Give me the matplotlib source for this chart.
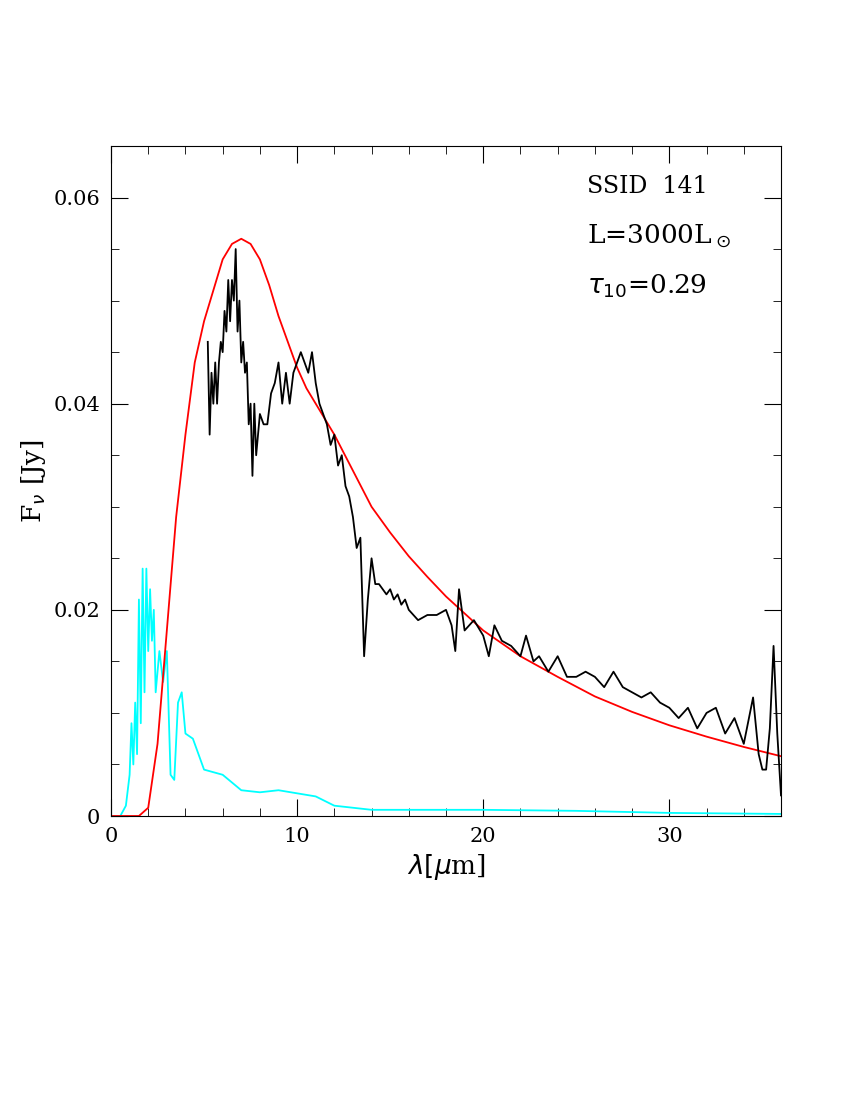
import matplotlib
matplotlib.use("Agg")
import matplotlib.pyplot as plt
from matplotlib.ticker import MultipleLocator

model_wl = [0, 1.5, 2, 2.5, 3, 3.5, 4, 4.5, 5, 5.5, 6, 6.5, 7, 7.5, 8, 8.5, 9, 9.5, 10, 10.5, 11,
            12, 13, 14, 15, 16, 17, 18, 20, 22, 24, 26, 28, 30, 32, 34, 36]
model_flux = [0, 0, 0.0008, 0.007, 0.018, 0.029, 0.037, 0.044, 0.048, 0.051, 0.054, 0.0555, 0.056,
              0.0555, 0.054, 0.0515, 0.0485, 0.046, 0.0435, 0.0415, 0.040, 0.037, 0.0335, 0.030,
              0.0275, 0.0252, 0.0232, 0.0213, 0.018, 0.0155, 0.0135, 0.0116, 0.0101, 0.0088,
              0.0077, 0.0067, 0.0058]

star_wl = [0, 0.5, 0.8, 1.0, 1.1, 1.2, 1.3, 1.4, 1.5, 1.6, 1.7, 1.8, 1.9, 2.0, 2.1, 2.2, 2.3, 2.4,
           2.6, 2.8, 3.0, 3.2, 3.4, 3.6, 3.8, 4.0, 4.4, 4.8, 5.0, 6, 7, 8, 9, 10, 11, 12, 14, 20,
           25, 30, 36]
star_flux = [0, 0, 0.001, 0.004, 0.009, 0.005, 0.011, 0.006, 0.021, 0.009, 0.024, 0.012, 0.024,
             0.016, 0.022, 0.017, 0.020, 0.012, 0.016, 0.013, 0.016, 0.004, 0.0035, 0.011, 0.012,
             0.008, 0.0075, 0.0055, 0.0045, 0.004, 0.0025, 0.0023, 0.0025, 0.0022, 0.0019,
             0.001, 0.0006, 0.0006, 0.0005, 0.0003, 0.0002]

obs_wl = ([5.2, 5.3, 5.4, 5.5, 5.6, 5.7, 5.8, 5.9, 6.0, 6.1, 6.2, 6.3, 6.4, 6.5, 6.6, 6.7, 6.8,
           6.9, 7.0, 7.1, 7.2, 7.3, 7.4, 7.5, 7.6, 7.7, 7.8, 7.9]
          + [8.0, 8.2, 8.4, 8.6, 8.8, 9.0, 9.2, 9.4, 9.6, 9.8, 10.0, 10.2, 10.4, 10.6, 10.8, 11.0,
             11.2, 11.4, 11.6, 11.8, 12.0, 12.2, 12.4, 12.6, 12.8, 13.0, 13.2, 13.4, 13.6, 13.8,
             14.0, 14.2, 14.4, 14.6, 14.8, 15.0, 15.2]
          + [15.4, 15.5, 15.6, 15.8, 16.0, 16.5, 17.0, 17.5, 18.0, 18.3, 18.5, 18.7, 19.0, 19.5,
             20.0, 20.3, 20.6, 21.0, 21.5, 22.0, 22.3, 22.7, 23.0, 23.5, 24.0, 24.5, 25.0, 25.5,
             26.0, 26.5, 27.0, 27.5, 28.0, 28.5, 29.0, 29.5, 30.0, 30.5, 31.0, 31.5, 32.0, 32.5,
             33.0, 33.5, 34.0, 34.5, 34.8, 35.0, 35.2, 35.4, 35.6, 35.8, 36.0])
obs_flux = ([0.046, 0.037, 0.043, 0.040, 0.044, 0.040, 0.044, 0.046, 0.045, 0.049, 0.047, 0.052,
             0.048, 0.052, 0.050, 0.055, 0.047, 0.050, 0.044, 0.046, 0.043, 0.044, 0.038, 0.040,
             0.033, 0.040, 0.035, 0.037]
            + [0.039, 0.038, 0.038, 0.041, 0.042, 0.044, 0.040, 0.043, 0.040, 0.043, 0.044, 0.045,
               0.044, 0.043, 0.045,
               0.042, 0.040, 0.039, 0.038, 0.036, 0.037, 0.034, 0.035, 0.032, 0.031, 0.029, 0.026,
               0.027, 0.0155, 0.021, 0.025, 0.0225, 0.0225, 0.022, 0.0215, 0.022, 0.021]
            + [0.0215, 0.021, 0.0205, 0.021, 0.020, 0.019, 0.0195, 0.0195, 0.020, 0.0185, 0.016,
               0.022, 0.018, 0.019, 0.0175, 0.0155, 0.0185, 0.017, 0.0165, 0.0155, 0.0175, 0.015,
               0.0155, 0.014, 0.0155, 0.0135, 0.0135, 0.014, 0.0135, 0.0125, 0.014, 0.0125, 0.012,
               0.0115, 0.012, 0.011, 0.0105, 0.0095, 0.0105, 0.0085, 0.010, 0.0105, 0.008, 0.0095,
               0.007, 0.0115, 0.006, 0.0045, 0.0045, 0.0085, 0.0165, 0.008, 0.002])

plt.rcParams['font.family'] = 'DejaVu Serif'
fig = plt.figure(figsize=(8.5, 11), dpi=100)
ax = fig.add_axes([111/850, 1-816/1100, 670/850, 670/1100])
ax.plot(star_wl, star_flux, color='cyan', lw=1.3)
ax.plot(model_wl, model_flux, color='red', lw=1.3)
ax.plot(obs_wl, obs_flux, color='black', lw=1.3)
ax.set_xlim(0, 36)
ax.set_ylim(0, 0.065)
ax.xaxis.set_major_locator(MultipleLocator(10))
ax.xaxis.set_minor_locator(MultipleLocator(2))
ax.yaxis.set_minor_locator(MultipleLocator(0.005))
ax.set_yticks([0, 0.02, 0.04, 0.06])
ax.set_yticklabels(['0', '0.02', '0.04', '0.06'])
ax.tick_params(which='both', direction='in', top=True, right=True, labelsize=15, pad=8)
ax.tick_params(which='major', length=12)
ax.tick_params(which='minor', length=6)
ax.set_xlabel(r'$\lambda[\mu$m]', fontsize=19)
ax.set_ylabel(r'F$_\nu$ [Jy]', fontsize=19)
ax.text(0.71, 0.94, 'SSID  141', transform=ax.transAxes, fontsize=17, va='center')
ax.text(0.71, 0.865, r'L=3000L$_\odot$', transform=ax.transAxes, fontsize=19, va='center')
ax.text(0.71, 0.79, r'$\tau_{10}$=0.29', transform=ax.transAxes, fontsize=19, va='center')
fig.savefig('out.png', dpi=100)
